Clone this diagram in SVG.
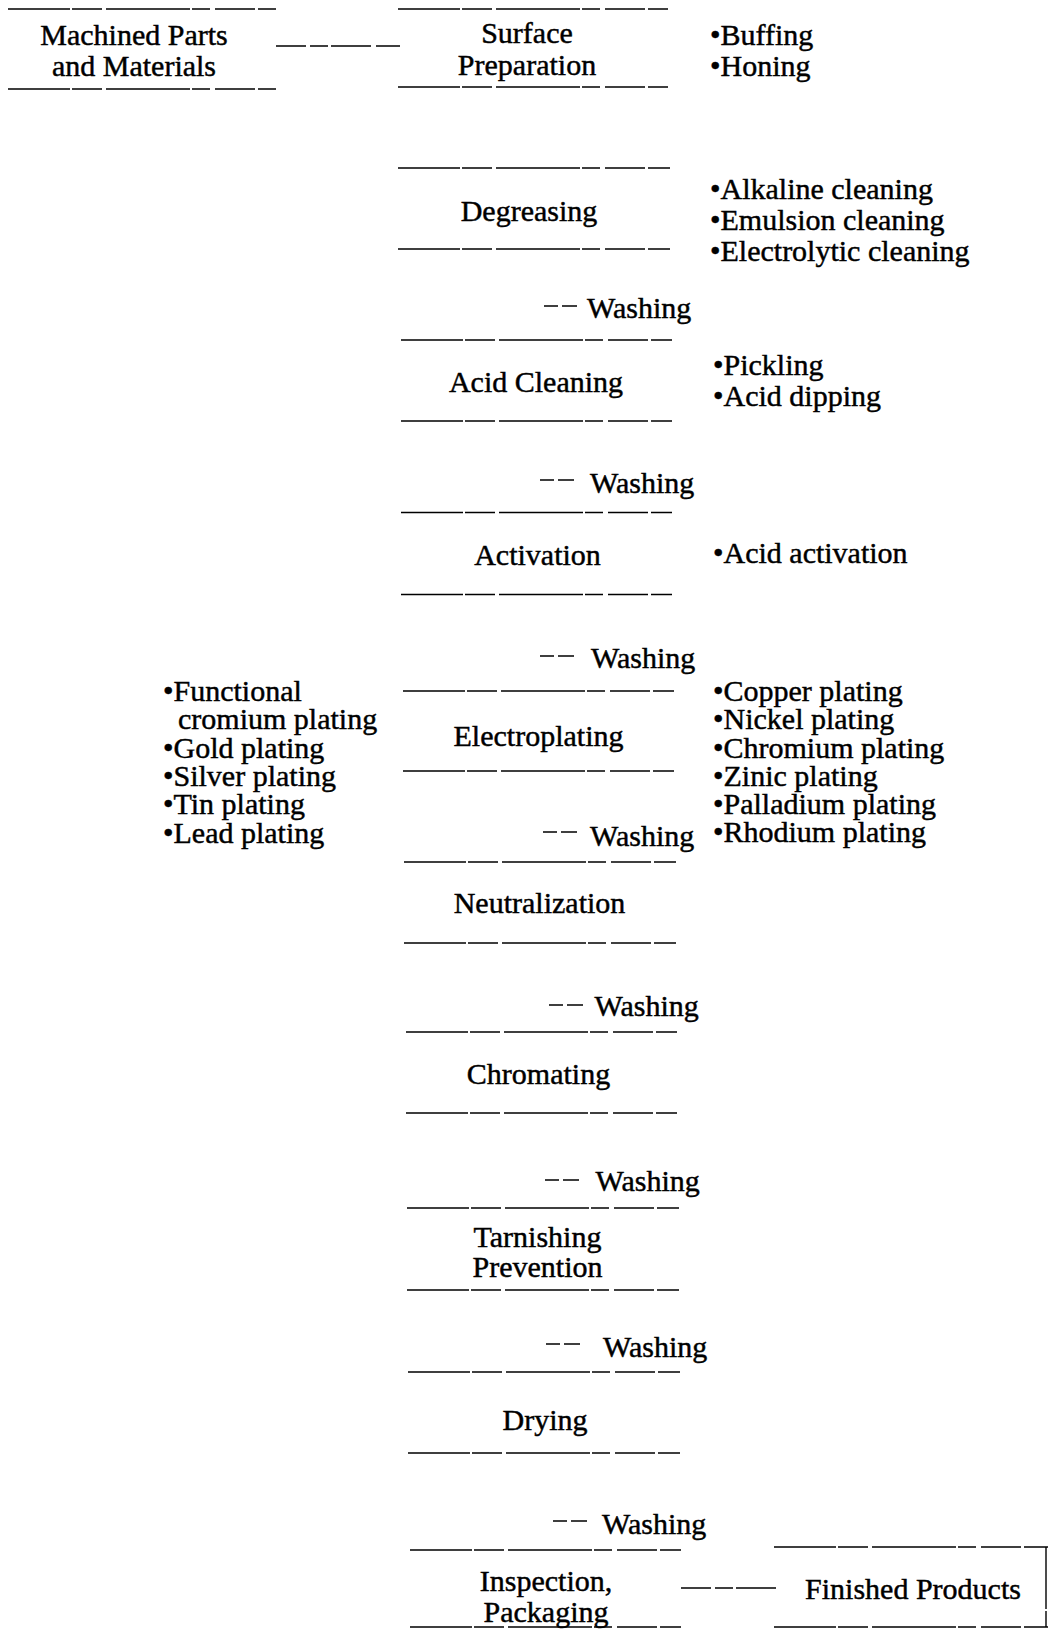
<svg xmlns="http://www.w3.org/2000/svg" width="1049" height="1630" viewBox="0 0 1049 1630">
<style>
text{font-family:"Liberation Serif","Times New Roman",serif;font-size:30px;fill:#000;stroke:#000;stroke-width:0.45;}
.c{text-anchor:middle;}
.bl{stroke:#000;stroke-width:1.4;fill:none;stroke-dasharray:62 2 30 4 84 2 18 5 40 3;}
.cn{stroke:#000;stroke-width:1.4;fill:none;stroke-dasharray:30 4 18 3 40 5;}
.wd{stroke:#000;stroke-width:1.6;fill:none;stroke-dasharray:14 4 16;}
</style>
<rect width="1049" height="1630" fill="#fff"/>
<g id="connectors">
<line class="cn" x1="276" y1="46" x2="400" y2="46"/>
<line class="cn" x1="681" y1="1588" x2="780" y2="1588"/>
</g>
<g id="machined-parts">
<line class="bl" x1="8" y1="9" x2="276" y2="9"/>
<line class="bl" x1="8" y1="89" x2="276" y2="89"/>
<text class="c" x="134" y="45">Machined Parts</text>
<text class="c" x="134" y="75.5">and Materials</text>
</g>
<g id="surface-preparation">
<line class="bl" x1="398" y1="9" x2="668" y2="9"/>
<line class="bl" x1="398" y1="87" x2="668" y2="87"/>
<text class="c" x="527" y="43">Surface</text>
<text class="c" x="527" y="74.5">Preparation</text>
<text x="710" y="45">•Buffing</text>
<text x="710" y="75.5">•Honing</text>
</g>
<g id="degreasing">
<line class="bl" x1="398" y1="168" x2="670" y2="168"/>
<line class="bl" x1="398" y1="249" x2="670" y2="249"/>
<text class="c" x="529" y="221">Degreasing</text>
<text x="710" y="199">•Alkaline cleaning</text>
<text x="710" y="229.5">•Emulsion cleaning</text>
<text x="710" y="260.5">•Electrolytic cleaning</text>
</g>
<g id="washing-1">
<line class="wd" x1="544" y1="306" x2="577" y2="306"/>
<text x="587" y="317.5">Washing</text>
</g>
<g id="acid-cleaning">
<line class="bl" x1="401" y1="340" x2="672" y2="340"/>
<line class="bl" x1="401" y1="421" x2="672" y2="421"/>
<text class="c" x="536" y="391.5">Acid Cleaning</text>
<text x="713" y="375">•Pickling</text>
<text x="713" y="406">•Acid dipping</text>
</g>
<g id="washing-2">
<line class="wd" x1="540" y1="480" x2="575" y2="480"/>
<text x="590" y="493">Washing</text>
</g>
<g id="activation">
<line class="bl" x1="401" y1="512.5" x2="672" y2="512.5"/>
<line class="bl" x1="401" y1="594.5" x2="672" y2="594.5"/>
<text class="c" x="537.5" y="565">Activation</text>
<text x="713" y="563">•Acid activation</text>
</g>
<g id="washing-3">
<line class="wd" x1="540" y1="656" x2="577" y2="656"/>
<text x="591" y="668">Washing</text>
</g>
<g id="electroplating">
<line class="bl" x1="403" y1="691" x2="674" y2="691"/>
<line class="bl" x1="403" y1="771" x2="674" y2="771"/>
<text class="c" x="538.5" y="746">Electroplating</text>
<text x="163" y="701">•Functional</text>
<text x="178" y="729">cromium plating</text>
<text x="163" y="757.5">•Gold plating</text>
<text x="163" y="785.5">•Silver plating</text>
<text x="163" y="813.5">•Tin plating</text>
<text x="163" y="842.5">•Lead plating</text>
<text x="713" y="701">•Copper plating</text>
<text x="713" y="729">•Nickel plating</text>
<text x="713" y="757.5">•Chromium plating</text>
<text x="713" y="785.5">•Zinic plating</text>
<text x="713" y="813.5">•Palladium plating</text>
<text x="713" y="841.5">•Rhodium plating</text>
</g>
<g id="washing-4">
<line class="wd" x1="543" y1="832" x2="579" y2="832"/>
<text x="590" y="845.5">Washing</text>
</g>
<g id="neutralization">
<line class="bl" x1="404" y1="862" x2="676" y2="862"/>
<line class="bl" x1="404" y1="943" x2="676" y2="943"/>
<text class="c" x="539.5" y="912.5">Neutralization</text>
</g>
<g id="washing-5">
<line class="wd" x1="549" y1="1005" x2="584" y2="1005"/>
<text x="594.5" y="1016">Washing</text>
</g>
<g id="chromating">
<line class="bl" x1="406" y1="1032" x2="677" y2="1032"/>
<line class="bl" x1="406" y1="1113" x2="677" y2="1113"/>
<text class="c" x="538.5" y="1084">Chromating</text>
</g>
<g id="washing-6">
<line class="wd" x1="545" y1="1180" x2="583" y2="1180"/>
<text x="595.5" y="1191">Washing</text>
</g>
<g id="tarnishing-prevention">
<line class="bl" x1="407" y1="1208" x2="679" y2="1208"/>
<line class="bl" x1="407" y1="1290" x2="679" y2="1290"/>
<text class="c" x="537.5" y="1247">Tarnishing</text>
<text class="c" x="537.5" y="1277">Prevention</text>
</g>
<g id="washing-7">
<line class="wd" x1="546" y1="1344" x2="585" y2="1344"/>
<text x="603" y="1357">Washing</text>
</g>
<g id="drying">
<line class="bl" x1="408" y1="1372" x2="680" y2="1372"/>
<line class="bl" x1="408" y1="1453" x2="680" y2="1453"/>
<text class="c" x="545" y="1430">Drying</text>
</g>
<g id="washing-8">
<line class="wd" x1="553" y1="1521" x2="587" y2="1521"/>
<text x="602" y="1534">Washing</text>
</g>
<g id="inspection-packaging">
<line class="bl" x1="410" y1="1550" x2="681" y2="1550"/>
<line class="bl" x1="410" y1="1627" x2="681" y2="1627"/>
<text class="c" x="546" y="1591">Inspection,</text>
<text class="c" x="546" y="1622">Packaging</text>
</g>
<g id="finished-products">
<line class="bl" x1="774" y1="1547" x2="1048" y2="1547"/>
<line class="bl" x1="774" y1="1627" x2="1048" y2="1627"/>
<line class="bl" x1="1046" y1="1547" x2="1046" y2="1627" stroke-width="1"/>
<text class="c" x="913" y="1598.5">Finished Products</text>
</g>
</svg>
